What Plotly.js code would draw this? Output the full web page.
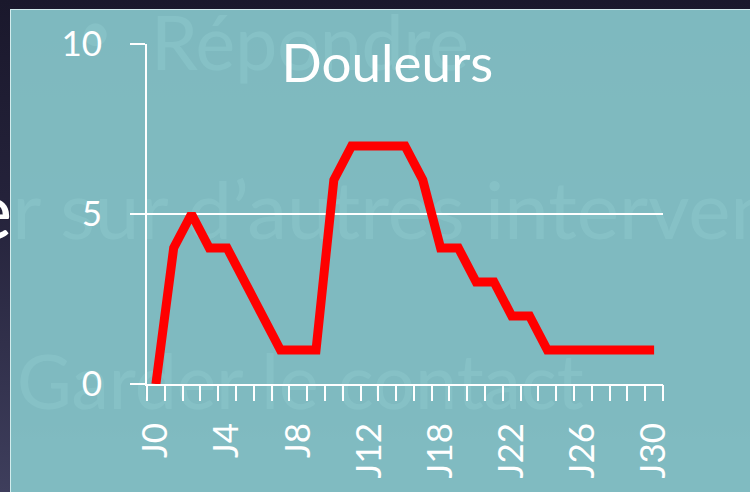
<!DOCTYPE html>
<html>
<head>
<meta charset="utf-8">
<script src="https://cdn.plot.ly/plotly-3.0.1.min.js"></script>
<style>
  html, body { margin: 0; padding: 0; }
  body {
    width: 750px; height: 492px; overflow: hidden; position: relative;
    background: linear-gradient(to bottom, #1a182c 0%, #24223a 40%, #3e3e5c 100%);
    font-family: Lato, sans-serif;
  }
  .slide { position: absolute; color: #ffffff; font-family: Lato, sans-serif; font-size: 75px; white-space: nowrap; line-height: 1; }
  #panel {
    position: absolute; left: 10px; top: 9px; width: 740px; height: 483px;
    background: rgba(130,191,196,0.968);
    box-shadow: inset 1px 1px 0 rgba(225,245,245,0.85);
  }
  #chart { position: absolute; left: 0; top: 0; width: 740px; height: 483px; }
</style>
</head>
<body>
<div class="slide" style="left:78px; top:0px; font-size:60px;">•</div>
<div class="slide" style="left:151px; top:4px;">Répondre</div>
<div class="slide" style="left:-30px; top:168px; font-size:80px;">er sur d’autres intervenants</div>
<div class="slide" style="left:17px; top:343px;">Garder le contact</div>
<div id="panel"><div id="chart"></div></div>
<script>
// Data
const categories = ["J0","J1","J2","J3","J4","J5","J6","J7","J8","J9","J10","J11","J12","J13","J14","J15",
                    "J18","J19","J20","J21","J22","J23","J24","J25","J26","J27","J28","J29","J30"];
const douleurs = [0,4,5,4,4,3,2,1,1,1,6,7,7,7,7,6,4,4,3,3,2,2,1,1,1,1,1,1,1];
const xTickLabels = ["J0","J4","J8","J12","J18","J22","J26","J30"];
const yTickValues = [0,5,10];
const chartTitle = "Douleurs";

const white = "#ffffff";
const tickFont = {family: "Lato, sans-serif", size: 35, color: white};

const traces = [
  {
    x: categories, y: douleurs, type: "scatter", mode: "lines",
    line: {color: "#ff0000", width: 9},
    hoverinfo: "skip", showlegend: false,
    xaxis: "x", yaxis: "y"
  },
  {
    x: categories, y: douleurs, type: "scatter", mode: "lines",
    line: {color: "rgba(0,0,0,0)", width: 0},
    hoverinfo: "skip", showlegend: false,
    xaxis: "x2", yaxis: "y"
  }
];

const layout = {
  width: 740, height: 483,
  margin: {l: 137, r: 87, t: 35, b: 108},
  paper_bgcolor: "rgba(0,0,0,0)",
  plot_bgcolor: "rgba(0,0,0,0)",
  showlegend: false,
  title: {
    text: chartTitle,
    font: {family: "Lato, sans-serif", size: 53, color: white},
    x: 0.51, xanchor: "center",
    y: 0.887, yanchor: "middle"
  },
  xaxis: {
    type: "category",
    categoryorder: "array", categoryarray: categories,
    range: [-0.5, categories.length - 0.5],
    tickmode: "array", tickvals: xTickLabels, ticktext: xTickLabels,
    tickangle: -90,
    ticks: "",
    ticklabelstandoff: 23,
    tickfont: tickFont,
    showline: true, linecolor: white, linewidth: 2,
    showgrid: false, zeroline: false, fixedrange: true
  },
  xaxis2: {
    type: "category", overlaying: "x", anchor: "y", side: "bottom",
    categoryorder: "array", categoryarray: categories,
    range: [-0.5, categories.length - 0.5],
    tickmode: "linear", tick0: 0, dtick: 1,
    tickson: "boundaries",
    ticks: "outside", ticklen: 16, tickwidth: 2, tickcolor: white,
    showticklabels: false, showline: false, showgrid: false, zeroline: false, fixedrange: true
  },
  yaxis: {
    range: [0, 10],
    tickmode: "array", tickvals: yTickValues, ticktext: yTickValues.map(String),
    ticks: "outside", ticklen: 15, tickwidth: 2, tickcolor: white,
    ticklabelstandoff: 21,
    tickfont: tickFont,
    showline: true, linecolor: white, linewidth: 2,
    showgrid: true, gridcolor: white, gridwidth: 2,
    zeroline: false, fixedrange: true
  }
};

Plotly.newPlot("chart", traces, layout, {displayModeBar: false, staticPlot: true});
</script>
</body>
</html>
